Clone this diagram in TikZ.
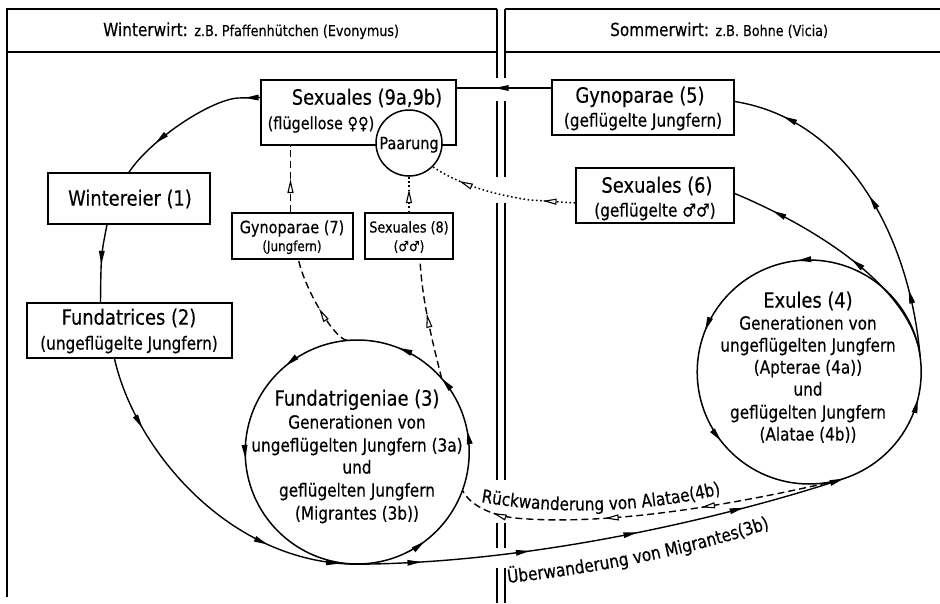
\documentclass[tikz,border=0pt]{standalone}
\usepackage{fontspec}
\setmainfont{DejaVu Sans}[FakeStretch=0.85,FakeBold=0.4]
\usetikzlibrary{arrows.meta,decorations.markings,decorations.text}
\tikzset{
  frame/.style={line width=1.6pt},
  box/.style={draw, line width=1.5pt, rectangle, inner sep=0pt},
  circ/.style={line width=1.5pt},
  conn/.style={line width=1.4pt},
  dsh/.style={line width=1.4pt, dash pattern=on 7pt off 4pt},
  dtt/.style={line width=1.5pt, dash pattern=on 1.6pt off 2.6pt},
  ma/.style={postaction={decorate, decoration={markings, mark=at position #1 with {\arrow{Triangle[length=14pt,width=5.5pt]}}}}},
  mo/.style={postaction={decorate, decoration={markings, mark=at position #1 with {\pgfsetdash{}{0pt}\arrow{Triangle[length=14pt,width=6pt,fill=white,line width=1.1pt]}}}}},
  f21/.style={inner sep=0pt, text depth=0pt, text height=15.3pt, font=\fontsize{21}{24}\selectfont},
  f18/.style={inner sep=0pt, text depth=0pt, text height=13.1pt, font=\fontsize{18}{21}\selectfont},
  f17/.style={inner sep=0pt, text depth=0pt, text height=12.4pt, font=\fontsize{17}{20}\selectfont},
  f15/.style={inner sep=0pt, text depth=0pt, text height=11pt, font=\fontsize{15}{18}\selectfont},
  f14/.style={inner sep=0pt, text depth=0pt, text height=10.2pt, font=\fontsize{14}{17}\selectfont},
}
\begin{document}
\begin{tikzpicture}[x=1pt,y=-1pt]
\useasboundingbox (0,0) rectangle (940,603);
\fill[white] (0,0) rectangle (940,603);

% frames
\draw[frame] (497,9) -- (7,9) -- (7,597);
\draw[frame] (7,52) -- (497,52);
\draw[frame] (505,9) -- (940,9);
\draw[frame] (505,52) -- (940,52);
\foreach \a/\b in {9/78,101/177,203/480,523/548,568/603}{
  \draw[frame] (497,\a) -- (497,\b);
  \draw[frame] (505,\a) -- (505,\b);
}

% headers
\node[anchor=base west, inner sep=0pt] (hw) at (103,36) {\fontsize{18}{20}\selectfont Winterwirt: \fontsize{15}{17}\selectfont z.B. Pfaffenhütchen (Evonymus)};
\node[anchor=base west, inner sep=0pt] (hs) at (610,36) {\fontsize{18}{20}\selectfont Sommerwirt: \fontsize{15}{17}\selectfont z.B. Bohne (Vicia)};

% boxes
\node[box, minimum width=195pt, minimum height=65pt] (sex9) at (358.5,112.5) {};
\node[circle, draw, line width=1.5pt, fill=white, minimum size=66pt, inner sep=0pt] (paar) at (409,143) {};
\node[f17] (tpaar) at (409,143) {Paarung};
\node[f21, anchor=center] (tsex9a) at (367,97) {Sexuales (9a,9b)};
\node[f17] (tsex9b) at (321,123) {(flügellose ♀♀)};

\node[box, minimum width=182pt, minimum height=55pt] (gyn5) at (643,107.5) {};
\node[f21] (tgyn5a) at (640,95) {Gynoparae (5)};
\node[f18] (tgyn5b) at (643,120) {(geflügelte Jungfern)};

\node[box, minimum width=158pt, minimum height=55pt] (sex6) at (655,195.5) {};
\node[f21] (tsex6a) at (657,185) {Sexuales (6)};
\node[f18] (tsex6b) at (655,210) {(geflügelte ♂♂)};

\node[box, minimum width=121pt, minimum height=46pt] (gyn7) at (292.5,236) {};
\node[f17] (tgyn7a) at (292,227) {Gynoparae (7)};
\node[f14] (tgyn7b) at (292,246) {(Jungfern)};

\node[box, minimum width=88pt, minimum height=46pt] (sex8) at (409,236) {};
\node[f15] (tsex8a) at (409,227) {Sexuales (8)};
\node[f14] (tsex8b) at (409,246) {(♂♂)};

\node[box, minimum width=162pt, minimum height=51pt] (win) at (129,198.5) {};
\node[f21] (twin) at (130,198) {Wintereier (1)};

\node[box, minimum width=205pt, minimum height=55pt] (fun) at (129.5,330.5) {};
\node[f21] (tfuna) at (129,317) {Fundatrices (2)};
\node[f18] (tfunb) at (129,343) {(ungeflügelte Jungfern)};

% circles
\node[circle, minimum size=224pt, inner sep=0pt] (c3) at (357,452) {};
\node[circle, minimum size=224pt, inner sep=0pt] (c4) at (809,372) {};
\draw[circ, ma=0.031, ma=0.114, ma=0.19, ma=0.36, ma=0.51, ma=0.853] (c3.east) arc[start angle=0, end angle=360, radius=112pt];
\draw[circ, ma=0.267, ma=0.44, ma=0.606, ma=0.961] (c4.east) arc[start angle=0, end angle=360, radius=112pt];

\node[f21] (t3a) at (357,398) {Fundatrigeniae (3)};
\node[f18] (t3b) at (357,422) {Generationen von};
\node[f18] (t3c) at (357,445) {ungeflügelten Jungfern (3a)};
\node[f18] (t3d) at (357,467) {und};
\node[f18] (t3e) at (357,490) {geflügelten Jungfern};
\node[f18] (t3f) at (357,513) {(Migrantes (3b))};

\node[f21] (t4a) at (808,300) {Exules (4)};
\node[f18] (t4b) at (808,323) {Generationen von};
\node[f18] (t4c) at (808,345) {ungeflügelten Jungfern};
\node[f18] (t4d) at (808,367) {(Apterae (4a))};
\node[f18] (t4e) at (808,389) {und};
\node[f18] (t4f) at (808,412) {geflügelten Jungfern};
\node[f18] (t4g) at (808,434) {(Alatae (4b))};

% solid connectors
\draw[conn, ma=0.1, ma=0.75] ([yshift=15pt]sex9.west) -- (238,98) .. controls (210,100) and (150,140) .. (win.north);
\draw[conn, ma=0.52] ([xshift=-22pt]win.south) .. controls (101,255) .. ([xshift=-29pt]fun.north);
\draw[conn, ma=0.22, ma=0.73, ma=0.95] ([xshift=-15pt]fun.south) .. controls (135,450) and (230,564) .. (c3.south);
\draw[conn, ma=0.13, ma=0.35, ma=0.57, ma=0.79, -{Triangle[length=14pt,width=5.5pt]}] (c3.south) .. controls (550,563) and (748.5,509.4) .. (c4.-72);
\draw[conn, ma=0.6] ([yshift=19.5pt]gyn5.west) -- ([yshift=24.5pt]sex9.east);
\draw[conn, ma=0.2, ma=0.5, ma=0.85] (c4.8) .. controls (910,240) and (850,120) .. ([yshift=6pt]gyn5.east);
\draw[conn, ma=0.45, ma=0.83] (c4.14) .. controls (900,280) and (810,225) .. ([yshift=2pt]sex6.east);

% dashed / dotted connectors
\draw[dsh, mo=0.36, mo=0.61, mo=0.9] (c4.-75) .. controls (720,508) and (600,526) .. (515,518) .. controls (490,515) and (470,505) .. (c3.-20);
\draw[dsh, mo=0.45] (c3.95) .. controls (335,340) and (305,290) .. ([xshift=6pt]gyn7.south);
\draw[dsh, mo=0.55] (c3.41) .. controls (432,340) and (422,300) .. ([xshift=11pt]sex8.south);
\draw[dsh, mo=0.5] ([xshift=-2pt]gyn7.north) -- ([xshift=-2pt]gyn7.north |- sex9.south);
\draw[dtt, mo=0.65] (sex8.north) -- (paar.south);
\draw[dtt, mo=0.22, mo=0.8] ([yshift=-7.5pt]sex6.west) -- (530,200) .. controls (495,195) and (460,185) .. (paar.-45);

% path labels
\path[decorate, decoration={text along path, text align=left, text={|\fontsize{18}{20}\selectfont|Rückwanderung von Alatae(4b)}}] (481,502) .. controls (560,516) and (660,514) .. (750,486);
\path[decorate, decoration={text along path, text align=left, text={|\fontsize{18}{20}\selectfont|Überwanderung von Migrantes(3b)}}] (508,583) .. controls (600,573) and (700,554) .. (800,518);
\end{tikzpicture}
\end{document}
